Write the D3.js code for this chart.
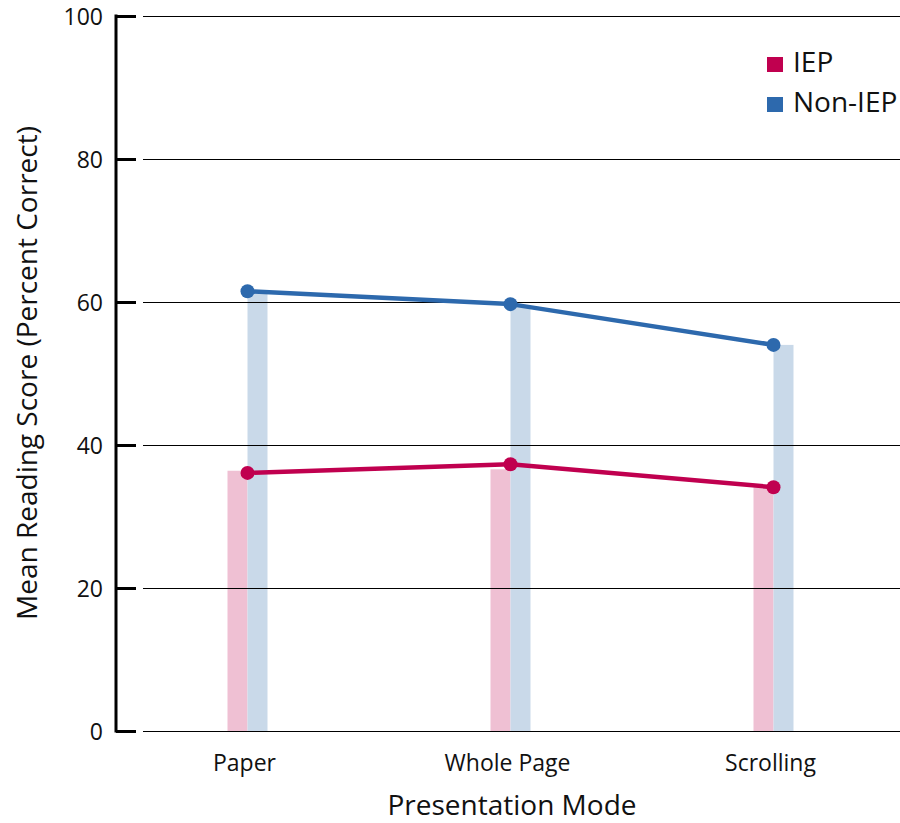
<!DOCTYPE html>
<html><head><meta charset="utf-8">
<script src="https://cdn.jsdelivr.net/npm/d3@7"></script>
<style>body{margin:0;background:#fff}svg{display:block;font-family:"Open Sans",sans-serif}</style>
</head><body><svg id="c" width="900" height="823"></svg>
<script>
const categories = ["Paper", "Whole Page", "Scrolling"];
const iepPoints = [36.1, 37.3, 34.1];
const nonIepPoints = [61.5, 59.7, 54.0];
const iepBars = [36.4, 36.6, 34.1];
const nonIepBars = [61.3, 59.5, 54.0];
const yTicks = [0, 20, 40, 60, 80, 100];
const seriesNames = ["IEP", "Non-IEP"];

const svg = d3.select("#c");
const x = d3.scaleBand().domain(categories).range([116, 905]);
const y = d3.scaleLinear().domain([0, 100]).range([731, 16]);
const cx = d => x(d) + x.bandwidth() / 2;
const bw = 20;
const colIEP = "#c0004f", colNon = "#2d69ad";
const barIEP = "#efc0d3", barNon = "#c9d9e9";

// bars
svg.append("g").selectAll("rect").data(categories).join("rect")
  .attr("x", d => cx(d) - bw).attr("width", bw)
  .attr("y", (d, i) => y(iepBars[i])).attr("height", (d, i) => y(0) - y(iepBars[i]))
  .attr("fill", barIEP);
svg.append("g").selectAll("rect").data(categories).join("rect")
  .attr("x", d => cx(d)).attr("width", bw)
  .attr("y", (d, i) => y(nonIepBars[i])).attr("height", (d, i) => y(0) - y(nonIepBars[i]))
  .attr("fill", barNon);

// gridlines
svg.append("g").selectAll("line").data(yTicks).join("line")
  .attr("x1", 143).attr("x2", 900)
  .attr("y1", d => Math.round(y(d)) + 0.5).attr("y2", d => Math.round(y(d)) + 0.5)
  .attr("stroke", "#000").attr("stroke-width", 1);

// y axis
const yAxis = d3.axisLeft(y).tickValues(yTicks).tickSize(-20).tickPadding(0).tickFormat(d3.format("d"));
const ga = svg.append("g").attr("transform", "translate(116,0)").call(yAxis);
ga.select(".domain").remove();
ga.selectAll(".tick line").attr("stroke", "#000").attr("stroke-width", 3);
ga.selectAll(".tick text").attr("x", -13).attr("dy", "0.35em").attr("font-size", 23).attr("fill", "#111").attr("font-family", "Open Sans");
svg.append("line").attr("x1", 116).attr("x2", 116).attr("y1", y(100) - 1.5).attr("y2", y(0) + 1.5)
  .attr("stroke", "#000").attr("stroke-width", 3);

// x axis labels
const xAxis = d3.axisBottom(x).tickSize(0).tickPadding(0);
const gx = svg.append("g").attr("transform", "translate(-3,0)").call(xAxis);
gx.select(".domain").remove();
gx.selectAll(".tick text").attr("y", 771).attr("dy", 0).attr("font-size", 23).attr("fill", "#111").attr("font-family", "Open Sans");

// lines and points
const line = d3.line().x((d, i) => cx(categories[i])).y(d => y(d));
[[iepPoints, colIEP], [nonIepPoints, colNon]].forEach(([vals, col]) => {
  svg.append("path").datum(vals).attr("d", line).attr("fill", "none")
    .attr("stroke", col).attr("stroke-width", 4.5);
  svg.append("g").selectAll("circle").data(vals).join("circle")
    .attr("cx", (d, i) => cx(categories[i])).attr("cy", d => y(d)).attr("r", 7).attr("fill", col);
});

// titles
svg.append("text").attr("x", 512).attr("y", 815).attr("text-anchor", "middle")
  .attr("font-size", 28).attr("fill", "#111").text("Presentation Mode");
svg.append("text").attr("transform", "translate(37,373) rotate(-90)").attr("text-anchor", "middle")
  .attr("font-size", 28).attr("fill", "#111").text("Mean Reading Score (Percent Correct)");

// legend
const leg = svg.append("g");
seriesNames.forEach((n, i) => {
  const yy = 57 + i * 40;
  leg.append("rect").attr("x", 767).attr("y", yy).attr("width", 16).attr("height", 15).attr("fill", i ? colNon : colIEP);
  leg.append("text").attr("x", 793).attr("y", yy + 15).attr("font-size", 28).attr("fill", "#111").text(n);
});
</script></body></html>
